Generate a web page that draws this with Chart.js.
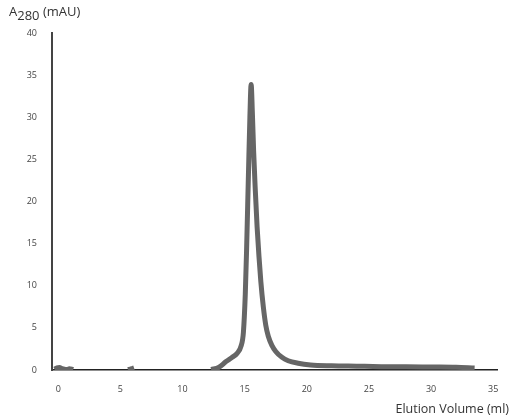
<!DOCTYPE html>
<html>
<head>
<meta charset="utf-8">
<script src="https://cdn.jsdelivr.net/npm/chart.js@4.4.1/dist/chart.umd.min.js"></script>
<style>
    html, body { margin: 0; padding: 0; background: #fff; }
    #wrap { position: relative; width: 518px; height: 420px; font-family: "Open Sans", sans-serif; }
    #yTitle { position: absolute; left: 9px; top: 2px; font-size: 13px; color: #333; }
    #yTitle sub { font-size: 13px; vertical-align: -4px; line-height: 0; }
    #xTitle { position: absolute; right: 9px; top: 400px; font-size: 12.5px; color: #333; }
</style>
</head>
<body>
<div id="wrap">
    <canvas id="chart" width="518" height="420"></canvas>
    <div id="yTitle">A<sub>280</sub> (mAU)</div>
    <div id="xTitle">Elution Volume (ml)</div>
</div>
<script>
// elution volume (ml) and absorbance (mAU); null breaks the trace
const elutionVolume = [-0.3, -0.1, 0.1, 0.3, 0.5, 0.7, 0.9, 1.1, 1.2, 3,
    5.6, 5.8, 6.0, 6.1, 9,
    12.3, 12.9, 13.5, 14.0, 14.4, 14.7, 14.9, 15.05, 15.15, 15.3, 15.42, 15.52,
    15.62, 15.72, 15.85, 16.0, 16.15, 16.3, 16.5, 16.7, 16.9, 17.2, 17.5, 18.0, 18.5,
    19.3, 20.3, 22, 24, 26, 28, 30, 32, 33.5];
const absorbance = [0.1, 0.25, 0.3, 0.15, 0.1, 0.05, 0.15, 0.1, 0.05, null,
    0.05, 0.1, 0.2, 0.25, null,
    0.05, 0.3, 1.0, 1.5, 2.0, 2.8, 4.5, 9, 14, 23, 30, 33.9,
    30.5, 26, 21.5, 17, 13.5, 10.5, 7.5, 5.3, 4.0, 2.9, 2.2, 1.5, 1.1,
    0.8, 0.6, 0.5, 0.45, 0.4, 0.38, 0.35, 0.32, 0.25];
const xTicks = [0, 5, 10, 15, 20, 25, 30, 35];
const yTicks = [0, 5, 10, 15, 20, 25, 30, 35, 40];

const points = elutionVolume.map((v, i) => ({ x: v, y: absorbance[i] }));
const tickFont = { family: "Open Sans", size: 9 };

new Chart(document.getElementById("chart"), {
    type: "line",
    data: {
        datasets: [{
            data: points,
            borderColor: "#666666",
            borderWidth: 5,
            pointRadius: 0,
            cubicInterpolationMode: "monotone",
            spanGaps: false
        }]
    },
    options: {
        responsive: false,
        animation: false,
        layout: { padding: { top: 33, right: 21, left: 0, bottom: 0 } },
        plugins: { legend: { display: false }, tooltip: { enabled: false } },
        scales: {
            x: {
                type: "linear",
                min: -0.5,
                max: 35.3,
                afterBuildTicks: s => { s.ticks = xTicks.map(v => ({ value: v })); },
                afterFit: s => { s.height = 50; },
                grid: { display: false },
                border: { display: true, color: "#222", width: 1.5 },
                ticks: { font: tickFont, color: "#444", padding: 6, maxRotation: 0 }
            },
            y: {
                min: 0,
                max: 40,
                afterBuildTicks: s => { s.ticks = yTicks.map(v => ({ value: v })); },
                afterFit: s => { s.width = 52; },
                grid: { display: false },
                border: { display: true, color: "#444", width: 2 },
                ticks: { font: tickFont, color: "#444", padding: 7 }
            }
        }
    }
});
</script>
</body>
</html>
